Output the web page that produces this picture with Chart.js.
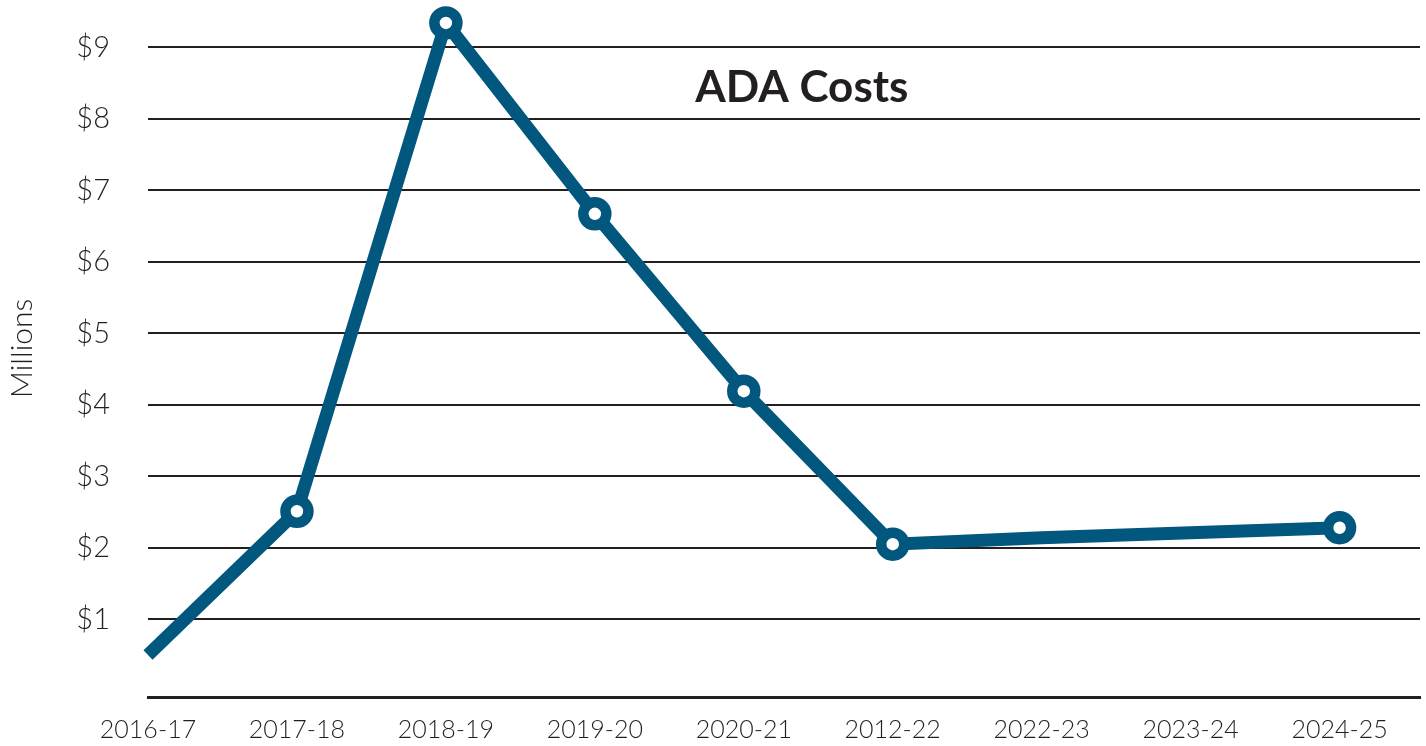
<!DOCTYPE html>
<html>
<head>
<meta charset="utf-8">
<script src="https://cdn.jsdelivr.net/npm/chart.js@4/dist/chart.umd.min.js"></script>
<style>
  html, body { margin: 0; padding: 0; background: #ffffff; }
  #wrap { position: relative; width: 1426px; height: 746px; }
</style>
</head>
<body>
<div id="wrap"><canvas id="c" width="1426" height="746"></canvas></div>
<script>
const categories = ['2016-17', '2017-18', '2018-19', '2019-20', '2020-21', '2012-22', '2022-23', '2023-24', '2024-25'];
const costs = [0.50, 2.51, 9.34, 6.67, 4.19, 2.05, 2.14, 2.21, 2.28];
const markerShown = [false, true, true, true, true, true, false, false, true];
const yTickValues = [1, 2, 3, 4, 5, 6, 7, 8, 9];
const chartTitle = 'ADA Costs';
const yTitle = 'Millions';

const ink = '#231f20';
const blue = '#02577f';

Chart.defaults.font.family = 'Lato, "Open Sans", sans-serif';
Chart.defaults.color = ink;

const titlePlugin = {
  id: 'innerTitle',
  afterDatasetsDraw(chart) {
    const { ctx, chartArea } = chart;
    ctx.save();
    ctx.font = 'bold 44px Lato, sans-serif';
    ctx.fillStyle = ink;
    ctx.textAlign = 'center';
    ctx.textBaseline = 'middle';
    ctx.fillText(chartTitle, chartArea.left + chartArea.width * 0.514, 88);
    ctx.restore();
  }
};

new Chart(document.getElementById('c'), {
  type: 'line',
  data: {
    datasets: [{
      data: costs.map((v, i) => ({ x: i, y: v })),
      borderColor: blue,
      borderWidth: 13,
      tension: 0,
      fill: false,
      clip: false,
      pointRadius: markerShown.map(s => s ? 11.5 : 0),
      pointHoverRadius: markerShown.map(s => s ? 11.5 : 0),
      pointBorderWidth: 10.5,
      pointBorderColor: blue,
      pointBackgroundColor: '#ffffff'
    }]
  },
  options: {
    responsive: false,
    animation: false,
    layout: { autoPadding: false, padding: { left: 0, right: 6, top: 0, bottom: 0 } },
    plugins: {
      legend: { display: false },
      title: { display: false },
      tooltip: { enabled: false }
    },
    scales: {
      x: {
        type: 'linear',
        min: 0,
        max: 8.54,
        grid: { display: false, drawTicks: false },
        border: { display: true, color: ink, width: 3 },
        ticks: {
          stepSize: 1,
          includeBounds: false,
          autoSkip: false,
          maxRotation: 0,
          padding: 18,
          font: { size: 25, weight: '300' },
          color: ink,
          callback: (v) => categories[v] !== undefined ? categories[v] : ''
        },
        afterFit: (s) => { s.height = 49; s.paddingLeft = 0; s.paddingRight = 0; }
      },
      y: {
        min: -0.087,
        max: 9.66,
        grid: { color: ink, lineWidth: 2, drawTicks: false },
        border: { display: false },
        afterBuildTicks: (s) => { s.ticks = yTickValues.map(v => ({ value: v })); },
        ticks: {
          padding: 38,
          font: { size: 29, weight: '300' },
          color: ink,
          callback: (v) => '$' + v
        },
        title: {
          display: true,
          text: yTitle,
          color: ink,
          font: { size: 30, weight: '300' },
          padding: { top: 4, bottom: 0 }
        },
        afterFit: (s) => { s.width = 148; s.paddingTop = 0; s.paddingBottom = 0; }
      }
    }
  },
  plugins: [titlePlugin]
});
</script>
</body>
</html>
